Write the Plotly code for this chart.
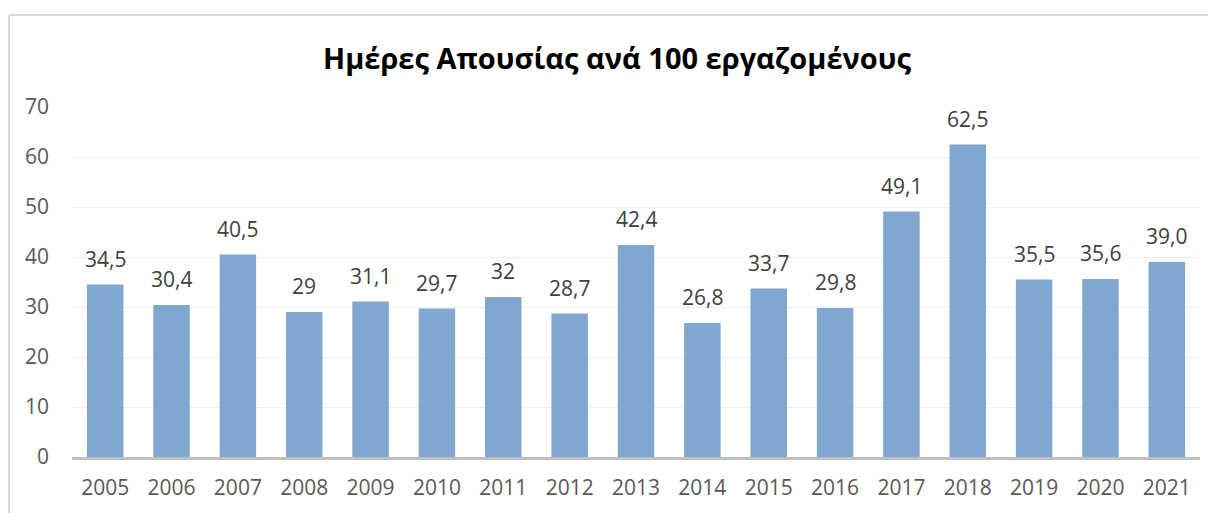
import plotly.graph_objects as go

years = ["2005", "2006", "2007", "2008", "2009", "2010", "2011", "2012", "2013",
         "2014", "2015", "2016", "2017", "2018", "2019", "2020", "2021"]
values = [34.5, 30.4, 40.5, 29, 31.1, 29.7, 32, 28.7, 42.4, 26.8, 33.7, 29.8,
          49.1, 62.5, 35.5, 35.6, 39.0]
labels = ["34,5", "30,4", "40,5", "29", "31,1", "29,7", "32", "28,7", "42,4",
          "26,8", "33,7", "29,8", "49,1", "62,5", "35,5", "35,6", "39,0"]
title = "Ημέρες Απουσίας ανά 100 εργαζομένους"

FONT = "Open Sans"

fig = go.Figure()
fig.add_trace(go.Bar(x=years, y=values, marker=dict(color="#80A7D0", line=dict(width=0)),
                     hoverinfo="skip"))

for i, (v, t) in enumerate(zip(values, labels)):
    fig.add_annotation(x=i, y=v, text=t, showarrow=False, yanchor="bottom",
                       yshift=10, font=dict(family=FONT, size=21, color="#404040"))

fig.add_annotation(xref="paper", yref="paper", x=(616.5 - 72) / 1128, y=(459 - 57) / 352,
                   text="<b>" + title + "</b>", showarrow=False, xanchor="center",
                   yanchor="middle", font=dict(family=FONT, size=29, color="#000000"))

border = "#D9D9D9"
fig.add_shape(type="line", xref="paper", yref="paper",
              x0=(9 - 72) / 1128, x1=(9 - 72) / 1128,
              y0=(459 - 520) / 352, y1=(459 - 14.5) / 352,
              line=dict(color=border, width=2))
fig.add_shape(type="line", xref="paper", yref="paper",
              x0=(9 - 72) / 1128, x1=(1220 - 72) / 1128,
              y0=(459 - 14.5) / 352, y1=(459 - 14.5) / 352,
              line=dict(color=border, width=2))

fig.update_layout(
    width=1208, height=505,
    margin=dict(l=64, r=16, t=99, b=54),
    paper_bgcolor="white", plot_bgcolor="white",
    bargap=0.45, showlegend=False,
    font=dict(family=FONT, color="#595959"),
    xaxis=dict(type="category", range=[-0.5, 16.5], showgrid=False, showline=True,
               linecolor="#BFBFBF", linewidth=3, ticks="",
               tickfont=dict(family=FONT, size=21, color="#595959"),
               ticklabelstandoff=10),
    yaxis=dict(range=[0, 70], tick0=0, dtick=10, showgrid=True, gridcolor="#EFEFEF",
               gridwidth=1, zeroline=False, showline=False, ticks="",
               tickfont=dict(family=FONT, size=21, color="#595959"),
               ticklabelstandoff=22),
)

fig.write_html("out.html")
